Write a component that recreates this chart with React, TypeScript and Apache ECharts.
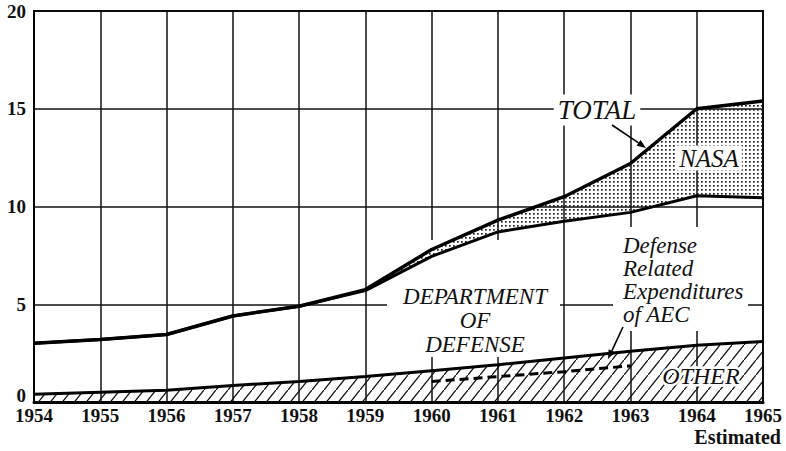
import React, { useEffect, useRef } from 'react';
import * as echarts from 'echarts';

const years = [1954, 1955, 1956, 1957, 1958, 1959, 1960, 1961, 1962, 1963, 1964, 1965];
const totalValues = [3.0, 3.2, 3.45, 4.4, 4.9, 5.75, 7.8, 9.3, 10.5, 12.2, 15.0, 15.4];
const defenseValues = [3.0, 3.2, 3.45, 4.4, 4.9, 5.7, 7.45, 8.7, 9.25, 9.7, 10.55, 10.45];
const otherValues = [0.4, 0.5, 0.6, 0.85, 1.05, 1.3, 1.6, 1.9, 2.25, 2.6, 2.9, 3.1];
const aecYears = [1960, 1961, 1962, 1962.9];
const aecValues = [1.05, 1.3, 1.55, 1.85];

const SERIF = 'Liberation Serif';

function hatchTile(): string {
  const c = document.createElement('canvas');
  c.width = 12;
  c.height = 15;
  const ctx = c.getContext('2d')!;
  ctx.strokeStyle = '#111';
  ctx.lineWidth = 1.3;
  ctx.beginPath();
  ctx.moveTo(-1.2, 16.5);
  ctx.lineTo(13.2, -1.5);
  ctx.stroke();
  return c.toDataURL();
}

function dotTile(): string {
  const c = document.createElement('canvas');
  c.width = 4;
  c.height = 4;
  const ctx = c.getContext('2d')!;
  ctx.fillStyle = '#222';
  ctx.fillRect(1, 1, 1.7, 1.7);
  return c.toDataURL();
}

function arrow(x1: number, y1: number, x2: number, y2: number): any[] {
  const dx = x2 - x1;
  const dy = y2 - y1;
  const len = Math.sqrt(dx * dx + dy * dy);
  const ux = dx / len;
  const uy = dy / len;
  const hl = 9;
  const hw = 3.5;
  const bx = x2 - ux * hl;
  const by = y2 - uy * hl;
  return [
    { type: 'line', z: 100, shape: { x1, y1, x2: bx, y2: by }, style: { stroke: '#000', lineWidth: 1.6 } },
    {
      type: 'polygon',
      z: 100,
      shape: { points: [[x2, y2], [bx - uy * hw, by + ux * hw], [bx + uy * hw, by - ux * hw]] },
      style: { fill: '#000' },
    },
  ];
}

function label(x: number, y: number, text: string, size: number, extra: any = {}): any {
  return {
    type: 'text',
    z: 100,
    x,
    y,
    style: {
      text,
      fontFamily: SERIF,
      fontStyle: 'italic',
      fontSize: size,
      fill: '#111',
      align: 'center',
      verticalAlign: 'middle',
      ...extra,
    },
  };
}

export default function App() {
  const ref = useRef<HTMLDivElement>(null);
  useEffect(() => {
    document.body.style.margin = '0';
    const chart = echarts.init(ref.current!, null, { renderer: 'svg' });
    const hatch = { image: hatchTile(), repeat: 'repeat', imageWidth: 12, imageHeight: 15 };
    const dots = { image: dotTile(), repeat: 'repeat', imageWidth: 4, imageHeight: 4 };
    const tickFont = { fontFamily: SERIF, fontWeight: 'bold', fontSize: 19, color: '#111' };
    const option: any = {
      animation: false,
      backgroundColor: '#fff',
      grid: { left: 34, right: 23, top: 11, bottom: 49, show: true, borderColor: '#000', borderWidth: 2 },
      xAxis: {
        type: 'category',
        boundaryGap: false,
        data: years.map(String),
        axisLine: { show: true, onZero: false, lineStyle: { color: '#000', width: 3 } },
        axisTick: { show: false },
        splitLine: { show: true, interval: 0, lineStyle: { color: '#111', width: 1.5 } },
        axisLabel: { interval: 0, margin: 4, ...tickFont },
      },
      yAxis: {
        type: 'value',
        min: 0,
        max: 20,
        interval: 5,
        axisLine: { show: true, lineStyle: { color: '#000', width: 2 } },
        axisTick: { show: false },
        splitLine: { show: true, lineStyle: { color: '#111', width: 1.5 } },
        axisLabel: {
          margin: 8,
          ...tickFont,
          formatter: (v: number) => (v === 0 ? '{z|0}' : String(v)),
          rich: { z: { ...tickFont, padding: [0, 0, 14, 0] } },
        },
      },
      series: [
        {
          type: 'line',
          stack: 's',
          symbol: 'none',
          z: 3,
          data: otherValues,
          lineStyle: { color: '#000', width: 3 },
          areaStyle: { color: hatch, opacity: 1 },
        },
        {
          type: 'line',
          stack: 's',
          symbol: 'none',
          z: 3,
          data: defenseValues.map((v, i) => +(v - otherValues[i]).toFixed(3)),
          lineStyle: { color: '#000', width: 3 },
        },
        {
          type: 'line',
          stack: 's',
          symbol: 'none',
          z: 3,
          data: totalValues.map((v, i) => +(v - defenseValues[i]).toFixed(3)),
          lineStyle: { color: '#000', width: 3.5 },
          areaStyle: { color: dots, opacity: 1 },
        },
        {
          type: 'line',
          symbol: 'none',
          z: 4,
          data: aecYears.map((y, i) => [y - years[0], aecValues[i]]),
          lineStyle: { color: '#000', width: 3, type: [9, 5] },
        },
      ],
      graphic: [
        { type: 'rect', z: 1, shape: { x: 387, y: 240, width: 173, height: 117 }, style: { fill: '#fff' } },
        { type: 'rect', z: 1, shape: { x: 613, y: 227, width: 135, height: 104 }, style: { fill: '#fff' } },
        label(597, 110, 'TOTAL', 27, { backgroundColor: '#fff', padding: [2, 4] }),
        label(709, 158, 'NASA', 25, { backgroundColor: '#fff', padding: [0, 3] }),
        label(475, 320, 'DEPARTMENT\nOF\nDEFENSE', 23, { lineHeight: 24 }),
        label(623, 233.5, 'Defense\nRelated\nExpenditures\nof AEC', 23, { lineHeight: 23, align: 'left', verticalAlign: 'top' }),
        label(701, 376, 'OTHER', 24, { stroke: '#fff', lineWidth: 5 }),
        {
          type: 'text', z: 100, x: 781, y: 437,
          style: { text: 'Estimated', fontFamily: SERIF, fontWeight: 'bold', fontSize: 20, fill: '#111', align: 'right', verticalAlign: 'middle' },
        },
        ...arrow(612, 125, 646, 148),
        ...arrow(623, 327, 608, 359),
      ],
    };
    chart.setOption(option);
    return () => chart.dispose();
  }, []);
  return <div ref={ref} style={{ width: 786, height: 451 }} />;
}
